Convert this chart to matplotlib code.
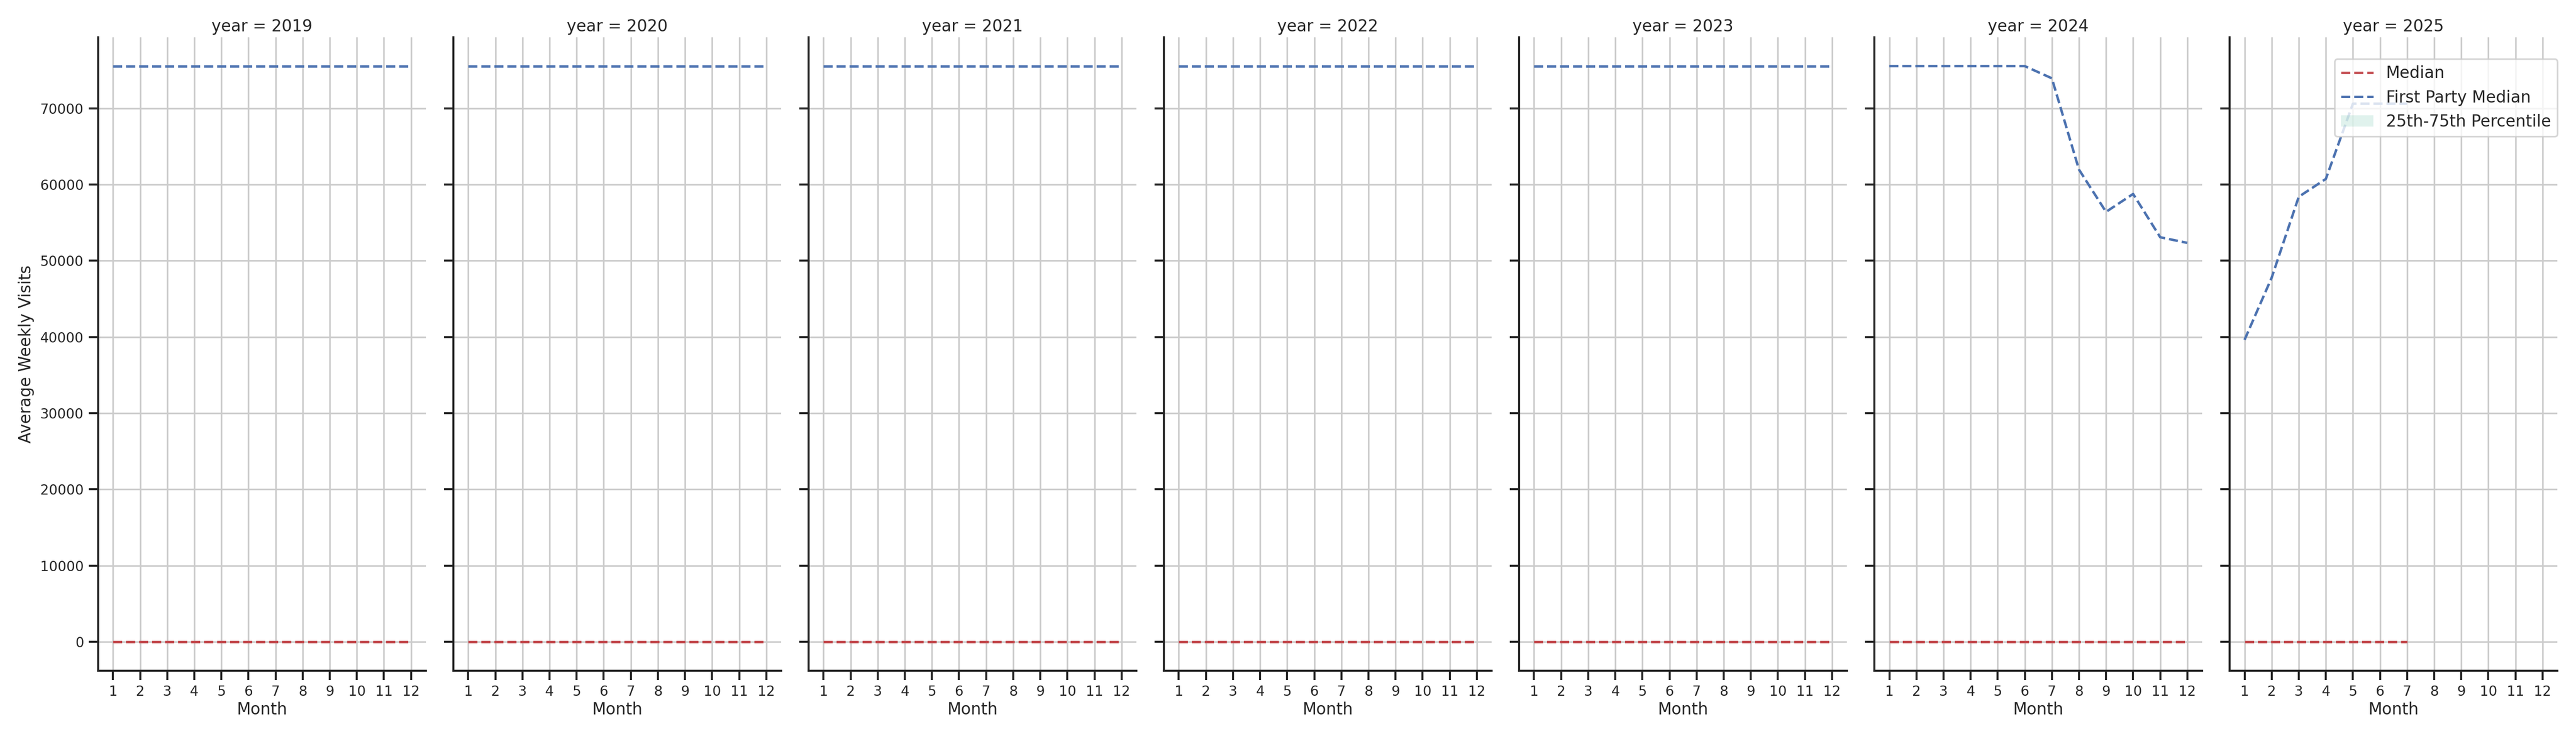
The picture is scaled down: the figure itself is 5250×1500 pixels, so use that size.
import numpy as np
import matplotlib
matplotlib.use("Agg")
import matplotlib.pyplot as plt
import seaborn as sns

# Daten
years = [2019, 2020, 2021, 2022, 2023, 2024, 2025]
months_full = list(range(1, 13))
months_2025 = list(range(1, 8))

median = {y: [0] * 12 for y in years[:-1]}
median[2025] = [0] * 7

q25 = {y: [0] * 12 for y in years[:-1]}
q25[2025] = [0] * 7
q75 = {y: [0] * 12 for y in years[:-1]}
q75[2025] = [0] * 7

first_party = {y: [75550] * 12 for y in [2019, 2020, 2021, 2022, 2023]}
first_party[2024] = [75550, 75550, 75550, 75550, 75550, 75550,
                     73950, 61980, 56420, 58770, 53090, 52350]
first_party[2025] = [39630, 47780, 58400, 60740, 70620, 70620, 70620]

# Stil
sns.set_theme(style="whitegrid", context="paper",
              rc={"xtick.bottom": True, "ytick.left": True,
                  "axes.edgecolor": ".15", "xtick.color": ".15", "ytick.color": ".15"})

fig, axes = plt.subplots(1, 7, figsize=(17.5, 5), dpi=300, sharex=True, sharey=True)
fig.subplots_adjust(left=0.0381, right=0.9928, bottom=0.0889, top=0.9493, wspace=0.0838)

for ax, year in zip(axes, years):
    months = months_2025 if year == 2025 else months_full
    ax.fill_between(months, q25[year], q75[year], color="#66c2a5", alpha=0.2,
                    linewidth=0, label="25th-75th Percentile")
    ax.plot(months, median[year], color="#C44E52", linestyle="--", label="Median")
    ax.plot(months, first_party[year], color="#4C72B0", linestyle="--",
            label="First Party Median")
    ax.set_xticks(months_full)
    ax.tick_params(labelsize=6.7, pad=2.4, length=4.6)
    ax.set_xlabel("Month", fontsize=7.9, labelpad=1.5)
    ax.set_title(f"year = {year}", fontsize=7.9, pad=3)
    ax.grid(True)
    sns.despine(ax=ax)

axes[0].set_ylabel("Average Weekly Visits", fontsize=7.9, labelpad=3)

handles, labels = axes[-1].get_legend_handles_labels()
order = [1, 2, 0]
axes[-1].legend([handles[i] for i in order], [labels[i] for i in order],
                loc="upper right", bbox_to_anchor=(1.0, 0.966), borderaxespad=0,
                fontsize=7.9)

fig.savefig("out.png", dpi=300)
